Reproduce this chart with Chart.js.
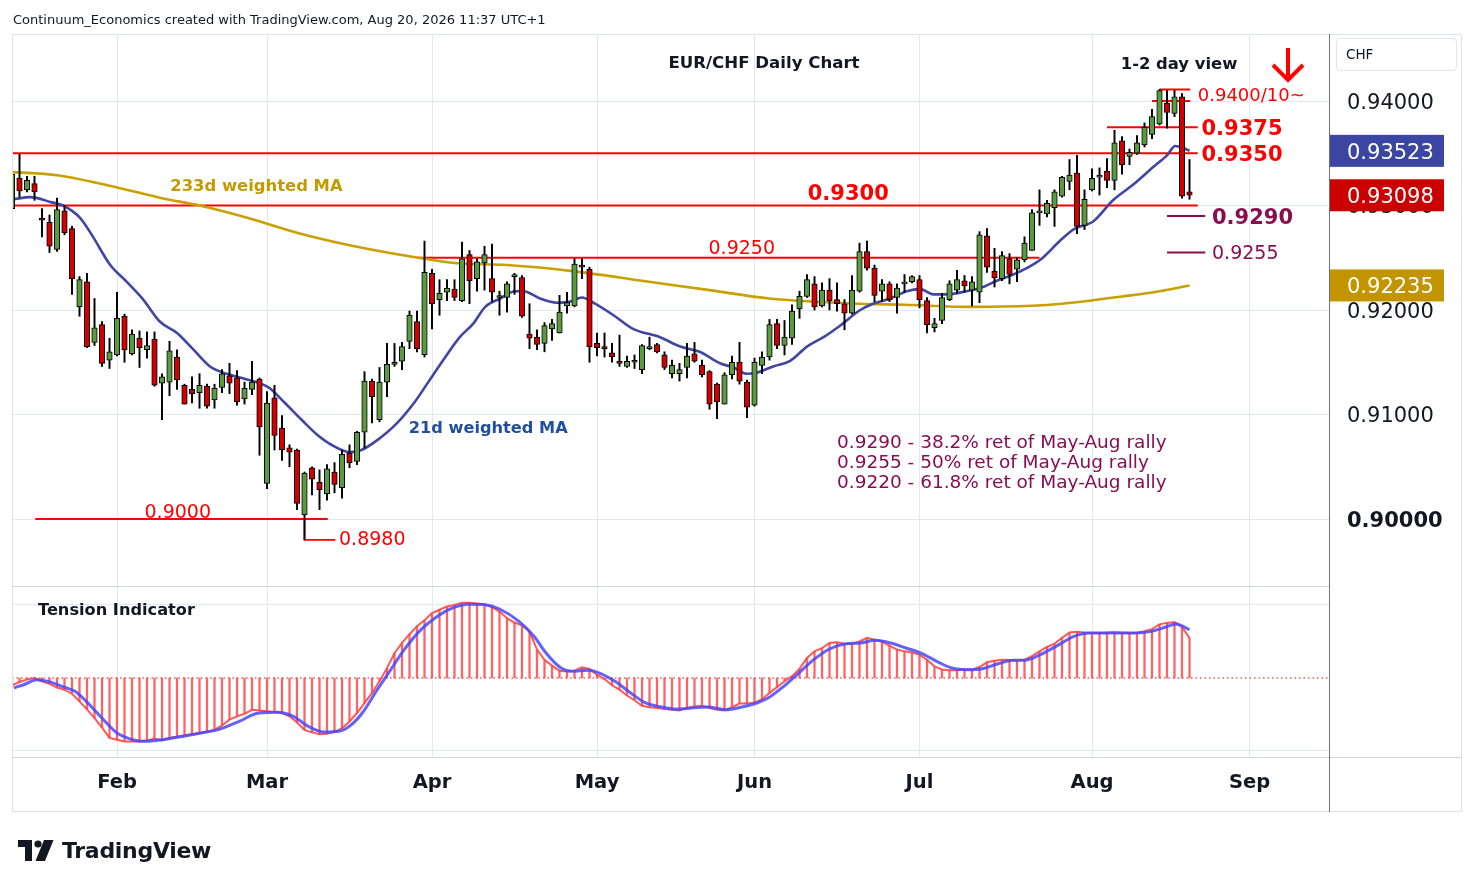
<!DOCTYPE html>
<html>
<head>
<meta charset="utf-8">
<title>EUR/CHF Daily Chart</title>
<script src="https://cdn.jsdelivr.net/npm/chart.js@4.4.0/dist/chart.umd.min.js"></script>
<style>
  html, body { margin: 0; padding: 0; background: #fff; }
  body { width: 1474px; height: 887px; position: relative; overflow: hidden; font-family: "DejaVu Sans", sans-serif; }
  #chart { position: absolute; left: 0; top: 0; }
  #logo { position: absolute; left: 18px; top: 838px; display: flex; align-items: center; color: #131722; }
  #logo span { font-weight: bold; font-size: 22px; margin-left: 8px; letter-spacing: -0.3px; }
</style>
</head>
<body>
<canvas id="chart" width="1474" height="887"></canvas>
<div id="logo">
  <svg width="36" height="22" viewBox="0 0 36 22">
    <path d="M0 0h14v21h-7v-14h-7z" fill="#131722"/>
    <circle cx="20" cy="4" r="3.6" fill="#131722"/>
    <path d="M26 0h9.5l-8.5 21h-9.5z" fill="#131722"/>
  </svg>
  <span>TradingView</span>
</div>
<script>
'use strict';

// -------------------- Data --------------------
// bar index: 0 = Jan 14 2026, one bar per trading day (the first candle is bar -1)
const firstBar = -1;

const opens = [
  0.9297, 0.9326, 0.9315, 0.9321, 0.9288, 0.9284, 0.9258, 0.9295, 0.9278, 0.9203,
  0.9227, 0.9169, 0.9186, 0.9152, 0.9157, 0.9194, 0.9158, 0.9173, 0.9162, 0.9172,
  0.9130, 0.9131, 0.9155, 0.9128, 0.9124, 0.9121, 0.9127, 0.9114, 0.9126, 0.9137,
  0.9135, 0.9115, 0.9124, 0.9134, 0.9034, 0.9116, 0.9087, 0.9068, 0.9066, 0.9004,
  0.9049, 0.9035, 0.9024, 0.9045, 0.9030, 0.9063, 0.9055, 0.9083, 0.9132, 0.9095,
  0.9131, 0.9148, 0.9151, 0.9170, 0.9189, 0.9157, 0.9235, 0.9210, 0.9217, 0.9220,
  0.9209, 0.9253, 0.9230, 0.9245, 0.9230, 0.9212, 0.9212, 0.9232, 0.9231, 0.9177,
  0.9174, 0.9168, 0.9182, 0.9178, 0.9204, 0.9204, 0.9243, 0.9239, 0.9168, 0.9164,
  0.9159, 0.9151, 0.9146, 0.9150, 0.9143, 0.9163, 0.9167, 0.9157, 0.9139, 0.9139,
  0.9145, 0.9158, 0.9147, 0.9141, 0.9129, 0.9110, 0.9138, 0.9150, 0.9131, 0.9109,
  0.9147, 0.9155, 0.9187, 0.9166, 0.9173, 0.9201, 0.9213, 0.9225, 0.9204, 0.9219,
  0.9210, 0.9206, 0.9197, 0.9218, 0.9256, 0.9240, 0.9218, 0.9225, 0.9212, 0.9225,
  0.9227, 0.9229, 0.9209, 0.9183, 0.9190, 0.9210, 0.9219, 0.9228, 0.9219, 0.9217,
  0.9271, 0.9237, 0.9230, 0.9249, 0.9239, 0.9248, 0.9257, 0.9293, 0.9292, 0.9298,
  0.9309, 0.9323, 0.9331, 0.9281, 0.9315, 0.9327, 0.9333, 0.9324, 0.9362, 0.9347,
  0.9350, 0.9358, 0.9368, 0.9378, 0.9398, 0.9388, 0.9404, 0.9313
];
const highs = [
  0.9335, 0.9349, 0.9328, 0.9328, 0.9297, 0.9291, 0.9307, 0.9300, 0.9280, 0.9232,
  0.9235, 0.9211, 0.9189, 0.9173, 0.9217, 0.9196, 0.9181, 0.9180, 0.9179, 0.9179,
  0.9139, 0.9170, 0.9162, 0.9129, 0.9136, 0.9139, 0.9129, 0.9129, 0.9143, 0.9149,
  0.9142, 0.9131, 0.9151, 0.9135, 0.9122, 0.9128, 0.9099, 0.9071, 0.9067, 0.9045,
  0.9050, 0.9047, 0.9052, 0.9054, 0.9066, 0.9071, 0.9084, 0.9141, 0.9134, 0.9145,
  0.9168, 0.9168, 0.9169, 0.9199, 0.9199, 0.9266, 0.9239, 0.9229, 0.9229, 0.9229,
  0.9265, 0.9257, 0.9249, 0.9261, 0.9263, 0.9218, 0.9227, 0.9235, 0.9233, 0.9206,
  0.9181, 0.9188, 0.9191, 0.9214, 0.9217, 0.9249, 0.9249, 0.9241, 0.9178, 0.9178,
  0.9168, 0.9176, 0.9156, 0.9157, 0.9167, 0.9174, 0.9168, 0.9160, 0.9152, 0.9149,
  0.9168, 0.9169, 0.9152, 0.9142, 0.9130, 0.9140, 0.9156, 0.9169, 0.9133, 0.9154,
  0.9160, 0.9191, 0.9191, 0.9190, 0.9205, 0.9218, 0.9234, 0.9232, 0.9226, 0.9230,
  0.9226, 0.9210, 0.9233, 0.9264, 0.9266, 0.9243, 0.9229, 0.9227, 0.9225, 0.9234,
  0.9233, 0.9233, 0.9212, 0.9192, 0.9216, 0.9228, 0.9238, 0.9233, 0.9232, 0.9275,
  0.9278, 0.9259, 0.9256, 0.9254, 0.9250, 0.9270, 0.9296, 0.9315, 0.9305, 0.9315,
  0.9328, 0.9344, 0.9348, 0.9315, 0.9335, 0.9336, 0.9345, 0.9372, 0.9366, 0.9354,
  0.9367, 0.9379, 0.9392, 0.9411, 0.9410, 0.9410, 0.9407, 0.9344
];
const lows = [
  0.9295, 0.9308, 0.9313, 0.9305, 0.9270, 0.9255, 0.9256, 0.9272, 0.9215, 0.9194,
  0.9164, 0.9166, 0.9146, 0.9144, 0.9156, 0.9150, 0.9157, 0.9145, 0.9154, 0.9127,
  0.9095, 0.9118, 0.9124, 0.9110, 0.9111, 0.9106, 0.9106, 0.9106, 0.9121, 0.9120,
  0.9109, 0.9110, 0.9119, 0.9061, 0.9029, 0.9066, 0.9056, 0.9050, 0.9009, 0.8980,
  0.9023, 0.9009, 0.9018, 0.9025, 0.9020, 0.9049, 0.9052, 0.9068, 0.9092, 0.9093,
  0.9117, 0.9146, 0.9143, 0.9163, 0.9160, 0.9155, 0.9182, 0.9195, 0.9209, 0.9209,
  0.9208, 0.9206, 0.9218, 0.9219, 0.9208, 0.9195, 0.9198, 0.9215, 0.9193, 0.9163,
  0.9162, 0.9160, 0.9171, 0.9178, 0.9197, 0.9203, 0.9230, 0.9150, 0.9156, 0.9155,
  0.9150, 0.9146, 0.9145, 0.9144, 0.9139, 0.9162, 0.9159, 0.9143, 0.9135, 0.9132,
  0.9135, 0.9150, 0.9136, 0.9105, 0.9096, 0.9110, 0.9134, 0.9129, 0.9097, 0.9108,
  0.9139, 0.9152, 0.9163, 0.9157, 0.9167, 0.9192, 0.9212, 0.9200, 0.9203, 0.9200,
  0.9199, 0.9181, 0.9196, 0.9217, 0.9238, 0.9208, 0.9208, 0.9208, 0.9197, 0.9217,
  0.9226, 0.9202, 0.9178, 0.9179, 0.9187, 0.9209, 0.9216, 0.9217, 0.9204, 0.9207,
  0.9236, 0.9222, 0.9228, 0.9225, 0.9227, 0.9246, 0.9257, 0.9281, 0.9289, 0.9280,
  0.9308, 0.9315, 0.9273, 0.9277, 0.9314, 0.9310, 0.9317, 0.9315, 0.9330, 0.9339,
  0.9349, 0.9356, 0.9364, 0.9377, 0.9374, 0.9385, 0.9307, 0.9306
];
const closes = [
  0.9330, 0.9314, 0.9324, 0.9313, 0.9286, 0.9261, 0.9296, 0.9274, 0.9230, 0.9229,
  0.9165, 0.9183, 0.9149, 0.9160, 0.9192, 0.9162, 0.9177, 0.9164, 0.9166, 0.9128,
  0.9136, 0.9161, 0.9133, 0.9110, 0.9120, 0.9128, 0.9108, 0.9125, 0.9139, 0.9130,
  0.9112, 0.9125, 0.9131, 0.9088, 0.9111, 0.9080, 0.9066, 0.9064, 0.9015, 0.9044,
  0.9038, 0.9028, 0.9048, 0.9033, 0.9062, 0.9054, 0.9083, 0.9132, 0.9117, 0.9131,
  0.9148, 0.9150, 0.9165, 0.9195, 0.9163, 0.9236, 0.9206, 0.9216, 0.9221, 0.9212,
  0.9249, 0.9228, 0.9246, 0.9253, 0.9217, 0.9213, 0.9225, 0.9232, 0.9194, 0.9173,
  0.9167, 0.9185, 0.9187, 0.9198, 0.9207, 0.9244, 0.9241, 0.9165, 0.9164, 0.9163,
  0.9155, 0.9149, 0.9151, 0.9150, 0.9166, 0.9163, 0.9160, 0.9145, 0.9147, 0.9143,
  0.9156, 0.9151, 0.9138, 0.9110, 0.9112, 0.9138, 0.9150, 0.9132, 0.9107, 0.9150,
  0.9155, 0.9186, 0.9166, 0.9174, 0.9199, 0.9213, 0.9229, 0.9203, 0.9219, 0.9209,
  0.9206, 0.9197, 0.9219, 0.9256, 0.9240, 0.9214, 0.9225, 0.9210, 0.9221, 0.9225,
  0.9232, 0.9210, 0.9186, 0.9187, 0.9212, 0.9225, 0.9229, 0.9223, 0.9227, 0.9272,
  0.9241, 0.9231, 0.9252, 0.9234, 0.9248, 0.9264, 0.9293, 0.9294, 0.9302, 0.9313,
  0.9327, 0.9329, 0.9280, 0.9306, 0.9326, 0.9329, 0.9324, 0.9360, 0.9339, 0.9351,
  0.9360, 0.9375, 0.9385, 0.9410, 0.9389, 0.9404, 0.9309, 0.93098
];

// moving averages (bar index, value)
const ma233Bars = [-1, 5, 12, 19, 24, 30, 38, 46, 54, 58, 65, 74, 83, 92, 100, 112, 118, 127, 135, 139, 147, 152, 156];
const ma233 = [0.9332, 0.9329, 0.9319, 0.9307, 0.9300, 0.9289, 0.9272, 0.9259, 0.9249, 0.9245, 0.9243, 0.9237,
  0.9228, 0.9219, 0.9211, 0.9206, 0.9205, 0.9203, 0.9204, 0.9206, 0.9213, 0.9218, 0.92235];

const ma21Bars = [-0.8, 1.4, 4.3, 5.8, 8.1, 9.8, 12.1, 14.3, 16.5, 18.7, 21, 23.2, 25.4, 27.6, 30.1, 33.2, 35.4,
  37.6, 39.8, 42.1, 44.1, 45.6, 47.8, 50.1, 52.7, 54.5, 56.3, 58.7, 60.5, 62.1, 64.1, 66.1, 67.2, 69.4, 71.6,
  73.4, 75, 76.5, 79.2, 81.8, 85.4, 88.1, 90.7, 93.4, 95.2, 97, 98.3, 100.5, 102.7, 105, 107.2, 109.4, 112.1,
  113.8, 116.1, 118.3, 120.1, 121.8, 123.6, 126.3, 128.1, 130.3, 132.5, 134.3, 136.1, 138.7, 140.5, 143.2,
  145.8, 148.5, 151.2, 153, 154.1, 155.2, 156];
const ma21 = [0.9306, 0.9308, 0.9303, 0.9300, 0.9288, 0.9270, 0.9243, 0.9227, 0.9210, 0.9189, 0.9178, 0.9162,
  0.9146, 0.9139, 0.9134, 0.9126, 0.9111, 0.9095, 0.9080, 0.9069, 0.9064, 0.9066, 0.9076, 0.9090, 0.9112,
  0.9131, 0.9150, 0.9174, 0.9187, 0.9203, 0.9211, 0.9218, 0.9218, 0.9211, 0.9207, 0.9208, 0.9212, 0.9207,
  0.9195, 0.9182, 0.9174, 0.9165, 0.9160, 0.9149, 0.9145, 0.9139, 0.9140, 0.9146, 0.9151, 0.9165, 0.9174,
  0.9185, 0.9200, 0.9206, 0.9211, 0.9218, 0.9220, 0.9215, 0.9215, 0.9218, 0.9221, 0.9228, 0.9234, 0.9240,
  0.9248, 0.9266, 0.9277, 0.9285, 0.9305, 0.9320, 0.9337, 0.9348, 0.9357, 0.9355, 0.93523];

// tension indicator, one value per candle
const tension = [
  -0.10, -0.055, -0.02, 0.0, -0.045, -0.08, -0.13, -0.16, -0.215, -0.32,
  -0.43, -0.55, -0.68, -0.82, -0.845, -0.87, -0.87, -0.87, -0.855, -0.83,
  -0.855, -0.82, -0.80, -0.785, -0.77, -0.755, -0.735, -0.71, -0.65, -0.57,
  -0.525, -0.49, -0.435, -0.445, -0.455, -0.465, -0.48, -0.525, -0.61, -0.71,
  -0.745, -0.77, -0.765, -0.74, -0.69, -0.595, -0.48, -0.345, -0.205, -0.045,
  0.135, 0.34, 0.48, 0.60, 0.71, 0.79, 0.89, 0.935, 0.98, 1.00,
  1.03, 1.03, 1.02, 1.01, 0.97, 0.91, 0.82, 0.76, 0.72, 0.64,
  0.39, 0.25, 0.17, 0.10, 0.09, 0.10, 0.145, 0.125, 0.045, -0.015,
  -0.10, -0.16, -0.24, -0.305, -0.38, -0.40, -0.41, -0.425, -0.435, -0.445,
  -0.41, -0.39, -0.38, -0.41, -0.435, -0.445, -0.40, -0.35, -0.35, -0.34,
  -0.29, -0.205, -0.125, -0.045, 0.025, 0.125, 0.275, 0.365, 0.41, 0.48,
  0.49, 0.47, 0.465, 0.50, 0.55, 0.525, 0.50, 0.445, 0.39, 0.365,
  0.35, 0.32, 0.25, 0.16, 0.115, 0.105, 0.105, 0.115, 0.115, 0.15,
  0.215, 0.235, 0.25, 0.245, 0.24, 0.25, 0.30, 0.365, 0.425, 0.47,
  0.55, 0.625, 0.635, 0.625, 0.615, 0.615, 0.62, 0.625, 0.62, 0.615,
  0.62, 0.64, 0.67, 0.735, 0.755, 0.765, 0.695, 0.55
];
const signalBars = [-0.75, 0.8, 2.3, 3.8, 5.9, 7.4, 8.9, 11, 13, 15.1, 16.6, 19.1, 21.7, 24.2, 26.5, 29.3, 31.9,
  34.4, 36.5, 38.5, 40.6, 42.6, 44.1, 45.7, 47.7, 49.2, 51.3, 53.3, 55.4, 57.4, 60, 62, 64, 66.6, 68.6, 70.2,
  72.2, 73.7, 75.8, 77.5, 79.4, 81.5, 83.5, 85.6, 87.6, 89.6, 91.7, 94.2, 96.3, 98.3, 99.8, 101.9, 103.9,
  105.9, 108, 110, 112.1, 114.1, 116.2, 118.2, 120.2, 122.3, 124.3, 126.4, 128.4, 130.5, 132.5, 134, 136.1,
  138.6, 140.6, 142.7, 145.3, 148.8, 150.9, 152.9, 154.2, 156];
const signal = [-0.137, -0.082, -0.023, -0.046, -0.123, -0.183, -0.32, -0.548, -0.753, -0.845, -0.868, -0.845,
  -0.80, -0.753, -0.708, -0.594, -0.479, -0.47, -0.525, -0.662, -0.74, -0.73, -0.653, -0.479, -0.16, 0.068,
  0.388, 0.639, 0.822, 0.945, 1.009, 1.005, 0.945, 0.776, 0.571, 0.342, 0.137, 0.091, 0.105, 0.06, -0.046,
  -0.205, -0.342, -0.397, -0.425, -0.411, -0.397, -0.434, -0.397, -0.342, -0.274, -0.114, 0.068, 0.251, 0.397,
  0.466, 0.479, 0.516, 0.479, 0.411, 0.342, 0.228, 0.137, 0.114, 0.128, 0.196, 0.242, 0.242, 0.32, 0.457,
  0.571, 0.616, 0.616, 0.616, 0.639, 0.699, 0.74, 0.662];

// support / resistance levels and the bars they span
const levelValues = [0.9411, 0.9400, 0.9375, 0.9350, 0.9300, 0.9290, 0.9255, 0.9250, 0.9000];
const levelFrom = [152, 151, 145, -1.5, -1.5, 153, 153, 53, 2.1];
const levelTo = [156.1, 156.1, 157.1, 157.1, 157.1, 158.1, 158.1, 136, 41.1];
const levelPurple = [false, false, false, false, false, true, true, false, false];
const swingLow = 0.8980;
const swingLowBar = 38;

const monthLabels = ['Feb', 'Mar', 'Apr', 'May', 'Jun', 'Jul', 'Aug', 'Sep'];
const monthBars = [13, 33, 55, 77, 98, 120, 143, 164];
const priceTicks = [0.90, 0.91, 0.92, 0.93, 0.94];

// -------------------- Styles --------------------
const GREEN = '#5b9a3e';
const RED = '#d20000';
const LEVEL_RED = '#ff0000';
const PURPLE = '#880e4f';
const GOLD = '#c8a000';
const NAVY = '#4145a3';
const GRID = '#e3e8ef';
const FONT = '"DejaVu Sans", sans-serif';

Chart.defaults.font.family = FONT;

// -------------------- Datasets --------------------
const bars = opens.map((o, k) => firstBar + k);
const pts = (xs, ys) => xs.map((x, k) => ({x: x, y: ys[k]}));

const datasets = [
  {
    type: 'bar', label: 'bodies', order: 1, grouped: false,
    data: bars.map((b, k) => ({x: b, y: [opens[k], closes[k]]})),
    backgroundColor: bars.map((b, k) => closes[k] >= opens[k] ? GREEN : RED),
    borderColor: '#000', borderWidth: 1, borderSkipped: false,
    barThickness: 5.5, minBarLength: 2
  },
  {
    type: 'bar', label: 'wicks', order: 2, grouped: false,
    data: bars.map((b, k) => ({x: b, y: [lows[k], highs[k]]})),
    backgroundColor: '#000', barThickness: 1.3
  },
  {
    type: 'line', label: '21d', order: 3,
    data: pts(ma21Bars, ma21),
    borderColor: NAVY, borderWidth: 2.6, pointRadius: 0, cubicInterpolationMode: 'monotone'
  },
  {
    type: 'line', label: '233d', order: 4,
    data: pts(ma233Bars, ma233),
    borderColor: GOLD, borderWidth: 2.6, pointRadius: 0, cubicInterpolationMode: 'monotone'
  }
];

levelValues.forEach((v, k) => {
  datasets.push({
    type: 'line', order: 5,
    data: [{x: levelFrom[k], y: v}, {x: levelTo[k], y: v}],
    borderColor: levelPurple[k] ? PURPLE : LEVEL_RED, borderWidth: 2, pointRadius: 0
  });
});

// bracket to the March low
datasets.push({
  type: 'line', order: 5,
  data: [{x: swingLowBar, y: 0.9000}, {x: swingLowBar, y: swingLow}, {x: swingLowBar + 4.1, y: swingLow}],
  borderColor: LEVEL_RED, borderWidth: 1.6, pointRadius: 0
});

// tension indicator pane
datasets.push(
  {
    type: 'line', order: 1, yAxisID: 'ind',
    data: pts(signalBars, signal),
    borderColor: 'rgba(72, 72, 250, 0.85)', borderWidth: 3, pointRadius: 0, cubicInterpolationMode: 'monotone'
  },
  {
    type: 'line', order: 2, yAxisID: 'ind',
    data: pts(bars, tension),
    borderColor: 'rgba(255, 70, 70, 0.9)', borderWidth: 2, pointRadius: 0
  },
  {
    type: 'bar', order: 3, yAxisID: 'ind', grouped: false,
    data: pts(bars, tension),
    backgroundColor: 'rgba(255, 70, 70, 0.85)', barThickness: 1.6
  },
  {
    type: 'line', order: 4, yAxisID: 'ind',
    data: [{x: -1, y: 0}, {x: 175, y: 0}],
    borderColor: '#ff0000', borderWidth: 1, borderDash: [1.5, 3], pointRadius: 0
  }
);

// -------------------- Overlay (labels, frame, price boxes) --------------------
function label(ctx, str, x, y, size, weight, color, align) {
  ctx.font = `${weight} ${size}px ${FONT}`;
  ctx.fillStyle = color;
  ctx.textAlign = align || 'left';
  ctx.textBaseline = 'alphabetic';
  ctx.fillText(str, x, y + size * 0.365);
}

const overlay = {
  id: 'overlay',
  afterDatasetsDraw(chart) {
    const {ctx, scales: {x, y}} = chart;
    ctx.save();

    label(ctx, '0.9300', x.getPixelForValue(110.5), y.getPixelForValue(0.93) - 13, 21, 'bold', LEVEL_RED, 'center');
    label(ctx, '0.9250', x.getPixelForValue(96.3), y.getPixelForValue(0.925) - 11, 19, 'normal', LEVEL_RED, 'center');
    label(ctx, '0.9000', x.getPixelForValue(21.1), y.getPixelForValue(0.90) - 8, 19, 'normal', LEVEL_RED, 'center');
    label(ctx, '0.8980', x.getPixelForValue(42.6), y.getPixelForValue(swingLow) - 1.5, 19, 'normal', LEVEL_RED);
    label(ctx, '0.9400/10~', x.getPixelForValue(157.1), y.getPixelForValue(0.94067), 18, 'normal', LEVEL_RED);
    label(ctx, '0.9375', x.getPixelForValue(157.6), y.getPixelForValue(0.9375), 21, 'bold', LEVEL_RED);
    label(ctx, '0.9350', x.getPixelForValue(157.6), y.getPixelForValue(0.935), 21, 'bold', LEVEL_RED);
    label(ctx, '0.9290', x.getPixelForValue(159), y.getPixelForValue(0.929), 21, 'bold', PURPLE);
    label(ctx, '0.9255', x.getPixelForValue(159), y.getPixelForValue(0.9255), 19, 'normal', PURPLE);

    label(ctx, '233d weighted MA', x.getPixelForValue(20.1), y.getPixelForValue(0.93196), 16.4, 'bold', '#c39a00');
    label(ctx, '21d weighted MA', x.getPixelForValue(51.9), y.getPixelForValue(0.9088), 16.2, 'bold', '#1f4f9e');

    label(ctx, '0.9290 - 38.2% ret of May-Aug rally', 837, 441, 18.5, 'normal', PURPLE);
    label(ctx, '0.9255 - 50% ret of May-Aug rally', 837, 461, 18.5, 'normal', PURPLE);
    label(ctx, '0.9220 - 61.8% ret of May-Aug rally', 837, 481, 18.5, 'normal', PURPLE);

    label(ctx, 'EUR/CHF Daily Chart', 764, 62, 16.6, 'bold', '#131722', 'center');
    label(ctx, '1-2 day view', 1179, 63, 16.4, 'bold', '#131722', 'center');
    label(ctx, 'Tension Indicator', 38, 609, 16.2, 'bold', '#131722');

    // down arrow
    ctx.strokeStyle = '#ff0000';
    ctx.lineWidth = 4;
    ctx.beginPath();
    ctx.moveTo(1288, 48);
    ctx.lineTo(1288, 80);
    ctx.stroke();
    ctx.beginPath();
    ctx.moveTo(1273, 65);
    ctx.lineTo(1288, 80);
    ctx.lineTo(1303, 65);
    ctx.stroke();

    ctx.restore();
  },
  afterDraw(chart) {
    const {ctx, chartArea: a, scales: {y}} = chart;
    ctx.save();

    // frame
    ctx.lineWidth = 1;
    ctx.strokeStyle = '#e0e3eb';
    ctx.strokeRect(12.5, 34.5, 1449, 777);
    ctx.strokeStyle = '#d1d4dc';
    ctx.beginPath();
    ctx.moveTo(12, 586.5); ctx.lineTo(a.right, 586.5);
    ctx.moveTo(12, a.bottom + 0.5); ctx.lineTo(1462, a.bottom + 0.5);
    ctx.stroke();
    ctx.strokeStyle = '#6f727c';
    ctx.beginPath();
    ctx.moveTo(a.right + 0.5, 34); ctx.lineTo(a.right + 0.5, 812);
    ctx.stroke();

    // currency tag
    ctx.strokeStyle = '#e0e3eb';
    ctx.beginPath();
    ctx.roundRect(1336.5, 38.5, 120, 32, 4);
    ctx.stroke();
    label(ctx, 'CHF', 1346, 54, 13.5, 'normal', '#131722');

    // last value boxes
    const boxes = [
      [ma21[ma21.length - 1], '#3a46a2'],
      [closes[closes.length - 1], '#cc0000'],
      [ma233[ma233.length - 1], '#c29400']
    ];
    boxes.forEach(([v, color]) => {
      const py = y.getPixelForValue(v);
      ctx.fillStyle = color;
      ctx.fillRect(a.right + 1, py - 16, 114, 32);
      label(ctx, v.toFixed(5), a.right + 18, py, 21, 'normal', '#ffffff');
    });

    ctx.restore();
  }
};

// -------------------- Chart --------------------
new Chart(document.getElementById('chart').getContext('2d'), {
  type: 'bar',
  data: {datasets: datasets},
  options: {
    responsive: false,
    animation: false,
    layout: {padding: {left: 13, top: 35, right: 13, bottom: 76}},
    plugins: {legend: {display: false}, tooltip: {enabled: false}},
    scales: {
      x: {
        type: 'linear', min: -0.8667, max: 174.6, offset: false,
        grid: {color: GRID, drawTicks: false, offset: false},
        border: {display: false},
        afterBuildTicks: s => { s.ticks = monthBars.map(v => ({value: v})); },
        afterFit: s => { s.height = 54; },
        ticks: {
          autoSkip: false, maxRotation: 0, padding: 14, color: '#131722',
          font: {size: 19.5, weight: 'bold'},
          callback: (v, i) => monthLabels[i]
        }
      },
      y: {
        type: 'linear', position: 'right', min: 0.877225, max: 0.946316,
        grid: {color: GRID, drawTicks: false},
        border: {display: false},
        afterBuildTicks: s => { s.ticks = priceTicks.map(v => ({value: v})); },
        afterFit: s => { s.width = 132; },
        ticks: {
          padding: 18, labelOffset: 2.5, color: '#131722',
          font: c => ({size: 21, weight: c.tick && c.tick.value === 0.9 ? 'bold' : 'normal'}),
          callback: v => v.toFixed(5)
        }
      },
      ind: {
        type: 'linear', position: 'left', min: -1.0822, max: 8.808,
        grid: {color: GRID, drawTicks: false},
        border: {display: false},
        ticks: {display: false},
        afterBuildTicks: s => { s.ticks = [{value: -1}, {value: 1}]; },
        afterFit: s => { s.width = 0; }
      }
    }
  },
  plugins: [overlay]
});

// header line
{
  const ctx = document.getElementById('chart').getContext('2d');
  label(ctx, 'Continuum_Economics created with TradingView.com, Aug 20, 2026 11:37 UTC+1', 13, 19, 13, 'normal', '#131722');
}
</script>
</body>
</html>
